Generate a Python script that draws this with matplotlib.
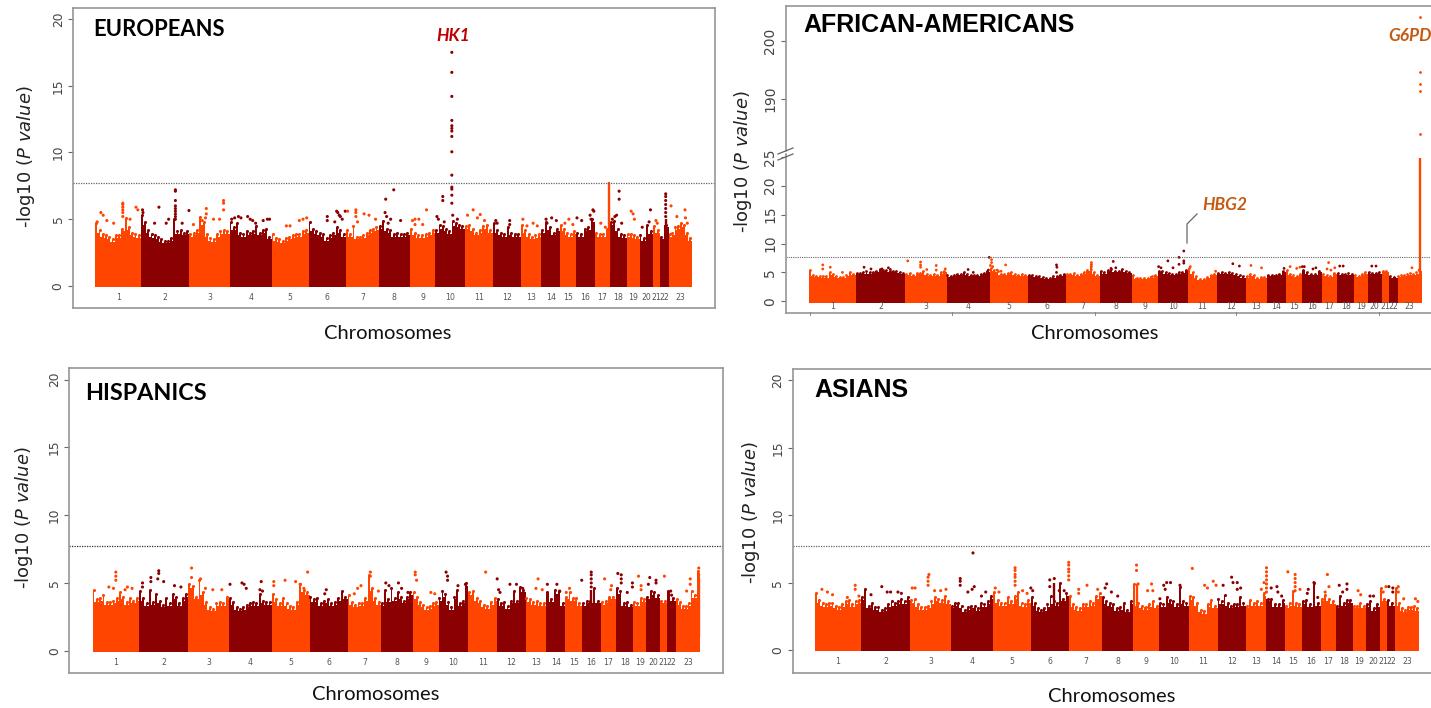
import matplotlib
matplotlib.use("Agg")
import matplotlib.pyplot as plt
from matplotlib.lines import Line2D
import numpy as np

W, H = 1431, 708
ORANGE, DARK = "#FF4500", "#8B0000"
SPINE = "#969696"
THRESHOLD = 7.73

CHROMS = [str(i) for i in range(1, 24)]
CHROM_SIZES = [100, 106, 88, 92, 81, 82, 72, 68, 56, 64, 62, 61, 45, 41, 35, 41, 33, 37, 28, 30, 15, 19, 51]

# Upper edge of the solid mass, sampled along each chromosome
EUR_ENV = [
    [4.7,4.2,3.9,3.8,3.7,3.5,3.8,3.8,4.3,5.1,4.4,4.0,3.9,3.8],
    [5.3,4.8,4.2,3.9,3.8,3.7,3.5,3.4,3.4,3.6,5.0,4.1,4.2,4.0,4.1],
    [3.9,4.0,4.2,5.2,4.8,3.9,3.6,3.5,3.9,4.1,4.2,4.1],
    [4.8,4.4,4.7,4.0,3.9,4.1,4.0,4.1,4.5,4.0,4.2,4.3,3.7],
    [3.9,3.6,3.5,3.4,3.6,3.7,3.8,3.9,3.9,4.1,4.2],
    [4.8,4.3,4.1,4.0,3.9,3.6,3.8,4.0,4.4,4.2,3.9],
    [4.2,3.9,4.5,3.7,3.7,3.8,4.0,4.2,4.3,4.4],
    [4.5,4.9,4.3,4.2,3.9,4.0,3.9,3.9,4.0],
    [4.3,4.0,3.8,3.8,3.9,4.0,4.2],
    [4.2,4.6,4.5,4.3,4.1,4.9,4.7,4.6,4.5],
    [4.5,4.6,4.3,4.0,4.2,4.5,4.6,4.2],
    [4.7,4.2,4.0,3.9,4.4,4.0,3.9,3.9],
    [4.6,4.2,3.9,3.7,3.8,3.9],
    [4.2,4.8,4.4,4.0,4.3],
    [4.6,4.3,4.0,3.9,4.1],
    [4.0,3.9,4.3,4.4,5.0],
    [4.0,3.9,3.9,4.3],
    [4.8,4.9,4.3,3.9,3.8],
    [3.9,3.9,3.8,3.7],
    [3.8,3.6,4.6,4.1],
    [4.5,4.2],
    [3.7,4.6],
    [3.9,4.0,4.4,4.5,4.7,4.6,4.0,3.6],
]
AFR_ENV = [
    [5.4,4.6,4.4,4.4,4.3,4.3,5.0,4.8,4.4,4.2,4.2,4.5,5.0,4.8],
    [4.9,4.9,5.0,5.3,5.0,5.1,5.2,5.4,5.5,5.4,5.3,5.3,5.3,5.1,4.9],
    [4.8,4.9,4.6,4.9,4.9,5.2,4.7,4.5,4.8,4.6,5.0,5.2],
    [4.6,4.4,4.6,4.8,4.8,5.0,4.7,4.5,4.5,4.6,4.7,4.9,5.2],
    [5.8,5.4,5.2,4.8,4.8,4.9,5.0,4.7,4.6,4.8,4.5],
    [4.6,4.5,4.4,4.4,4.2,4.0,4.1,4.3,4.4,4.6,4.7],
    [4.7,4.7,4.9,4.6,4.7,5.0,5.5,6.5,5.0,4.6],
    [5.2,5.0,5.5,5.6,5.3,5.2,5.6,5.2,5.1],
    [4.5,4.1,4.0,4.0,4.1,4.3,4.6],
    [5.3,5.2,5.0,4.9,4.7,4.8,5.0,5.1,5.5],
    [5.7,5.0,4.3,3.9,3.9,4.2,4.6,4.7],
    [4.9,5.1,4.9,5.0,4.9,4.8,4.5,4.3],
    [4.3,4.7,4.5,4.1,4.2,4.2],
    [4.5,4.5,4.6,4.8,5.3],
    [5.4,4.8,4.5,4.4,4.7],
    [5.4,5.0,4.8,4.8,5.2],
    [4.7,4.5,4.4,4.9],
    [4.9,4.7,4.7,4.9,4.8],
    [4.5,4.4,4.7,5.0],
    [5.1,4.9,4.9,5.0],
    [5.3,5.3],
    [4.4,4.2],
    [4.4,4.6,4.6,4.8,4.9,4.7,5.0,5.5],
]
HIS_ENV = [
    [4.5,3.8,3.9,4.1,3.6,3.6,3.7,3.9,4.3,4.0,3.6,3.9,3.7,3.9],
    [4.4,3.9,3.5,4.5,3.6,4.2,3.7,3.4,3.9,3.5,4.2,4.0,3.5,3.9,4.2],
    [4.9,4.8,4.0,5.2,4.3,3.6,3.2,3.1,3.5,3.6,3.5,4.0],
    [3.9,3.6,3.2,3.1,3.2,3.4,3.5,3.6,3.5,4.2,3.7,3.6,3.6],
    [4.2,3.8,3.5,3.9,3.5,3.3,3.2,3.6,4.9,4.5,4.3],
    [4.0,3.8,3.9,3.5,3.7,3.8,3.5,3.6,3.9,4.4,4.0],
    [4.1,3.6,3.4,3.5,3.5,3.9,5.6,4.6,3.9,3.6],
    [3.5,4.5,3.8,4.6,3.9,4.3,4.0,3.7,4.0,4.3],
    [4.3,4.0,3.6,3.4,3.2,3.3,3.5,3.6],
    [3.9,4.4,4.2,3.6,3.2,4.0,4.5,3.5,3.7,5.0],
    [4.3,4.4,3.9,3.7,3.4,3.3,3.6,3.9],
    [3.8,3.5,3.6,3.3,3.7,4.4,3.7,4.7,4.5],
    [3.9,3.8,3.6,3.7,3.5,3.5],
    [4.3,3.8,4.5,4.4,3.5],
    [4.0,4.3,3.9,3.9,3.5],
    [3.5,3.7,3.7,4.6,3.7],
    [3.6,3.7,4.0,4.0],
    [4.6,4.4,3.5,3.6,3.4],
    [3.6,3.5,3.9,3.8],
    [4.0,4.4,4.3,4.1],
    [3.7,3.7],
    [4.4,3.9],
    [3.8,3.6,3.3,3.3,3.5,4.4,4.1,5.9],
]
ASN_ENV = [
    [4.2,3.7,3.5,3.4,3.5,3.5,3.3,3.2,3.4,3.6,3.7,3.4,3.6,3.7],
    [3.9,4.5,3.3,3.5,3.2,3.2,3.0,3.1,3.4,3.6,3.5,3.6,3.8,3.6,3.9],
    [3.7,3.8,3.4,3.2,3.2,3.3,3.6,3.9,3.8,3.7,4.0,3.6],
    [3.3,3.5,3.5,3.3,3.0,3.2,3.3,3.3,3.1,3.5,3.4,3.6,4.0],
    [4.3,3.7,3.5,3.5,3.9,3.6,4.0,4.3,3.5,3.4,3.7],
    [3.9,3.5,3.1,3.0,3.1,3.4,4.0,3.6,3.5,5.0,3.8,4.2],
    [4.0,3.4,3.2,3.1,3.4,3.4,3.6,3.5,4.0,4.2],
    [3.9,3.6,3.5,3.4,3.1,3.2,3.5,3.0,3.6],
    [4.9,3.5,3.3,3.2,3.4,3.6,3.3],
    [3.5,3.4,3.9,3.7,3.6,3.4,4.7,3.6,3.5],
    [4.0,3.9,3.5,3.0,2.9,3.4,3.7,3.3],
    [3.8,3.6,4.1,3.5,3.3,3.4,3.4,3.9,3.5],
    [3.3,3.7,3.5,3.6,3.5,4.2],
    [3.8,3.8,3.4,3.4,3.7],
    [3.3,3.5,4.4,3.5,3.4],
    [3.6,3.7,3.4,5.0,3.5],
    [3.8,4.1,3.8,3.6],
    [3.3,4.0,3.5,3.7,3.7],
    [3.3,3.3,3.5,3.3],
    [3.4,3.6,3.1,3.4],
    [4.6,3.8],
    [3.7,3.5],
    [4.6,3.5,3.1,3.0,3.2,3.2,3.3,3.1],
]

# Individual SNPs above the mass: (chromosome, position within chromosome, -log10 P)
EUR_POINTS = [
    (10,.56,17.5),(10,.56,16.0),(10,.56,14.2),(10,.56,12.4),(10,.56,12.0),(10,.56,11.8),(10,.56,11.6),(10,.56,11.2),
    (10,.56,10.05),(10,.56,8.3),(10,.56,7.4),(10,.56,7.25),(10,.56,6.8),(10,.56,6.2),(10,.59,5.3),
    (10,.25,6.7),(10,.25,6.4),(10,.05,5.2),(10,.1,5.0),(10,.3,4.8),(10,.75,5.0),
    (2,.71,7.2),(2,.71,7.1),(2,.71,6.4),(2,.71,6.0),(2,.71,5.8),(2,.71,5.6),(2,.71,5.4),(2,.71,5.2),(2,.71,5.0),
    (2,.37,5.9),(2,.03,5.7),(2,.04,5.5),(2,.99,5.65),(2,.57,5.0),(2,.52,4.7),(2,.85,4.7),(2,.28,4.7),
    (1,.6,6.2),(1,.6,6.1),(1,.6,5.9),(1,.6,5.7),(1,.6,5.5),(1,.6,5.2),(1,.12,5.5),(1,.17,5.3),(1,.89,5.9),(1,.93,5.7),
    (1,.76,5.0),(1,.25,4.9),(1,.04,4.8),(1,.4,4.7),
    (3,.85,6.4),(3,.85,6.2),(3,.85,5.7),(3,.42,5.8),(3,.42,5.4),(3,.4,5.1),(3,.6,5.0),(3,.32,4.9),(3,.1,4.6),(3,.75,5.0),
    (4,.05,5.0),(4,.12,5.1),(4,.21,5.2),(4,.27,5.1),(4,.43,5.2),(4,.49,5.0),(4,.55,4.9),(4,.62,4.7),(4,.8,4.9),(4,.9,5.0),(4,.95,5.0),
    (5,.4,4.5),(5,.5,4.5),(5,.75,4.9),(5,.85,5.0),(5,.95,5.1),
    (6,.5,5.2),(6,.5,4.9),(6,.75,5.6),(6,.78,5.5),(6,.82,5.3),(6,.85,5.2),(6,.9,5.0),(6,.7,4.8),(6,.98,5.6),
    (7,.05,5.6),(7,.3,5.7),(7,.3,5.5),(7,.3,5.2),(7,.55,5.4),(7,.7,5.3),(7,.9,5.0),(7,.35,4.8),
    (8,.22,6.5),(8,.48,7.2),(8,.2,5.5),(8,.25,5.2),(8,.38,5.0),(8,.7,4.9),(8,.3,4.7),
    (9,.1,4.9),(9,.2,5.0),(9,.35,5.0),(9,.65,5.7),(9,.5,4.6),(9,.2,4.6),
    (11,.3,5.7),(11,.1,5.3),(11,.55,5.35),(11,.45,5.1),(11,.7,4.9),
    (12,.1,4.9),(12,.15,4.7),(12,.6,4.9),(12,.6,4.6),
    (13,.1,5.0),(13,.3,4.5),(13,.6,4.7),(13,.8,4.5),
    (14,.25,5.0),(14,.55,5.1),(14,.8,4.9),(14,.3,4.7),
    (15,.55,5.0),(15,.3,4.7),(15,.8,4.6),
    (16,.05,5.1),(16,.3,4.9),(16,.75,5.3),(16,.9,5.7),(16,.95,5.6),(16,.8,5.0),
    (17,.4,4.7),(17,.7,4.4),
    (18,.55,7.1),(18,.55,6.5),(18,.4,5.3),(18,.3,5.2),(18,.15,5.0),(18,.7,4.7),
    (19,.35,5.6),(19,.5,5.4),(19,.6,5.0),
    (20,.8,5.7),(20,.2,4.4),(20,.7,4.8),
    (21,.4,4.9),(21,.6,4.7),
    (22,.65,6.9),(22,.65,6.7),(22,.65,6.4),(22,.65,6.1),(22,.65,5.8),(22,.65,5.5),(22,.65,5.2),
    (23,.1,6.0),(23,.7,5.7),(23,.72,5.1),(23,.35,5.2),(23,.8,4.7),
]
AFR_POINTS = [
    (1,.3,6.3),(1,.3,5.6),(1,.46,5.9),(1,.72,5.0),
    (2,.17,5.9),(2,.31,5.6),(2,.5,5.5),(2,.66,5.8),(2,.53,5.6),(2,.7,5.5),
    (3,.06,7.0),(3,.37,6.8),(3,.37,6.3),(3,.37,5.9),(3,.75,6.2),(3,.75,5.4),(3,.52,5.5),(3,.97,5.6),
    (4,.5,5.5),(4,.62,5.0),(4,.97,5.4),(4,.99,7.6),
    (5,.05,7.2),(5,.05,6.7),(5,.02,6.2),(5,.08,6.0),(5,.42,6.3),(5,.2,5.4),(5,.3,5.2),
    (6,.75,6.3),(6,.76,5.9),(6,.75,5.0),
    (7,.75,6.7),(7,.75,6.0),(7,.75,5.5),
    (8,.42,6.9),(8,.5,5.8),(8,.35,5.7),
    (10,.02,6.0),(10,.33,7.0),(10,.7,7.6),(10,.7,6.4),(10,.86,8.7),(10,.86,7.0),(10,.86,6.6),(10,.5,5.8),(10,.1,5.8),
    (11,.08,6.0),(11,.95,5.2),
    (12,.55,6.5),(12,.78,6.1),
    (13,.25,6.2),(13,.75,5.8),
    (14,.9,5.7),
    (15,.25,6.0),(15,.65,5.7),(15,.85,5.9),
    (16,.0,6.0),(16,.1,6.0),(16,.55,5.6),(16,.7,5.8),
    (17,.35,5.6),(17,.45,6.7),(17,.6,5.4),(17,.85,5.8),
    (18,.15,6.1),(18,.35,6.1),
    (20,.3,6.1),(20,.6,6.1),
    (23,.6,5.8),(23,.9,5.4),
]
AFR_UPPER_POINTS = [(23,.93,204.0),(23,.93,194.6),(23,.93,192.6),(23,.93,191.4),(23,.93,183.9)]
HIS_POINTS = [
    (1,.5,5.8),(1,.5,5.5),(1,.5,5.2),(1,.35,4.7),(1,.45,4.6),(1,.75,4.7),(1,.85,4.6),(1,.7,4.5),
    (2,.4,5.9),(2,.4,5.7),(2,.24,5.4),(2,.24,5.1),(2,.38,5.3),(2,.5,5.1),(2,.72,4.8),(2,.85,4.7),(2,.07,5.0),(2,.07,4.7),
    (3,.08,6.1),(3,.08,5.4),(3,.3,5.3),(3,.42,4.6),(3,.6,4.5),(3,.82,4.5),
    (4,.02,4.9),(4,.3,5.0),(4,.35,4.9),(4,.4,4.6),(4,.75,5.1),(4,.72,4.5),(4,.78,4.4),
    (5,.05,5.1),(5,.05,4.8),(5,.35,5.2),(5,.63,5.1),(5,.95,5.8),(5,.75,4.9),(5,.85,4.6),
    (6,.44,4.5),(6,.4,4.2),
    (7,.3,4.6),(7,.4,4.8),(7,.68,5.8),(7,.68,5.5),(7,.2,4.2),(7,.92,4.4),
    (8,.15,5.0),(8,.25,4.8),(8,.55,5.0),(8,.65,4.6),(8,.85,4.3),
    (9,.1,5.8),(9,.1,5.6),(9,.15,5.2),(9,.7,4.3),(9,.85,4.2),
    (10,.25,5.8),(10,.3,5.5),(10,.3,5.2),(10,.9,4.9),(10,.65,4.8),
    (11,.6,5.8),
    (12,.0,5.3),(12,.45,4.9),(12,.68,4.9),(12,.9,4.6),(12,.05,4.5),(12,.1,4.3),
    (13,.6,5.3),(13,.5,4.6),(13,.8,4.5),
    (14,.05,4.9),(14,.55,4.9),(14,.7,4.4),
    (15,.25,4.6),(15,.05,4.3),
    (16,.0,5.2),(16,.5,5.8),(16,.5,5.6),(16,.5,5.3),(16,.5,5.0),(16,.5,4.7),
    (17,.25,5.3),(17,.7,4.8),(17,.65,4.5),
    (18,.1,5.7),(18,.3,5.6),(18,.3,5.3),(18,.3,5.0),(18,.65,4.3),(18,.95,5.0),(18,.95,4.7),
    (19,.4,5.5),(19,.6,4.8),(19,.6,4.5),
    (20,.25,5.4),(20,.7,5.2),(20,.7,5.0),(20,.15,4.9),
    (21,.6,5.5),
    (22,.4,4.4),(22,.5,4.1),
    (23,.6,5.3),(23,.6,4.9),(23,.45,4.4),(23,.96,6.1),(23,.96,5.6),
]
ASN_POINTS = [
    (1,.15,4.5),(1,.27,4.3),(1,.38,4.1),(1,.87,4.8),(1,.87,4.5),(1,.7,3.9),(1,.95,4.0),
    (2,.42,4.7),(2,.2,4.1),(2,.53,4.3),(2,.6,4.3),(2,.75,4.3),(2,.82,4.2),
    (3,.46,5.6),(3,.44,5.4),(3,.44,5.1),(3,.44,4.8),(3,.05,4.6),(3,.12,4.6),(3,.6,4.4),(3,.75,4.4),(3,.88,4.5),
    (4,.22,5.3),(4,.22,5.1),(4,.22,4.8),(4,.52,7.2),(4,.55,4.7),(4,.5,4.5),(4,.4,4.3),(4,.82,4.3),(4,.72,4.0),
    (5,.05,4.6),(5,.15,4.3),(5,.58,6.1),(5,.58,5.9),(5,.58,5.6),(5,.58,5.4),(5,.58,5.1),(5,.58,4.8),(5,.78,4.4),(5,.9,4.2),
    (6,.0,4.6),(6,.05,4.4),(6,.5,5.2),(6,.5,4.7),(6,.62,5.3),(6,.75,4.4),(6,.88,4.4),
    (7,.0,6.5),(7,.0,6.3),(7,.0,6.0),(7,.0,5.8),(7,.0,5.5),(7,.0,5.2),(7,.3,4.5),(7,.55,4.8),(7,.3,4.2),(7,.87,4.5),
    (8,.15,4.9),(8,.1,4.6),(8,.3,4.3),(8,.5,4.0),
    (9,.12,6.3),(9,.12,5.9),(9,.18,4.9),(9,.7,4.9),(9,.55,4.4),(9,.75,4.4),
    (10,.15,4.8),(10,.2,4.5),(10,.25,5.0),(10,.38,5.0),(10,.7,4.8),(10,.02,3.8),
    (11,.12,6.05),(11,.55,4.8),(11,.65,4.6),(11,.85,5.1),(11,.95,4.8),
    (12,.2,4.8),(12,.5,5.4),(12,.55,5.0),(12,.7,5.0),(12,.7,4.5),(12,.82,4.6),
    (13,.75,4.5),(13,.88,5.0),
    (13,1.0,6.1),(13,1.0,5.8),(13,1.0,5.5),(13,1.0,5.2),(13,1.0,4.9),(13,1.0,4.6),(13,1.0,4.3),
    (14,.25,4.6),(14,.55,4.7),(14,.6,4.3),(14,.8,4.0),
    (15,.15,5.8),(15,.6,5.6),(15,.6,5.3),(15,.6,5.0),(15,.6,4.7),(15,.6,4.4),(15,.9,4.5),
    (16,.35,4.5),(16,.3,4.2),(16,.65,5.0),(16,.85,3.9),
    (17,.45,5.6),(17,.55,4.7),(17,.3,4.3),
    (18,.2,4.8),(18,.65,4.9),(18,.65,4.5),(18,.4,4.3),
    (19,.4,4.4),(19,.6,4.1),
    (20,.3,4.0),(20,.55,4.0),
    (21,.9,4.7),(21,.5,4.3),
    (22,.25,4.7),(22,.7,4.6),(22,.7,4.3),
    (23,.12,4.7),(23,.12,4.3),(23,.35,3.8),(23,.85,3.8),(23,.95,3.6),
]

# Thin columns rising out of the mass: (chromosome, position, top)
EUR_STEMS = [(17,.93,7.8),(22,.65,5.0)]
AFR_STEMS = [(23,.93,24.8)]
HIS_STEMS = [(23,.96,5.4),(16,.5,4.5)]
ASN_STEMS = [(6,.62,5.0),(9,.12,4.9)]

STARTS = np.concatenate(([0], np.cumsum(CHROM_SIZES)[:-1]))
TOTAL = sum(CHROM_SIZES)
MIDS = STARTS + np.array(CHROM_SIZES) / 2
NOTCH = 0.2  # depth of the gaps between the sampled columns


def chrom_color(c):
    return ORANGE if c % 2 == 1 else DARK


def place(px_l, px_r, px_t, px_b):
    return fig.add_axes([px_l / W, 1 - px_b / H, (px_r - px_l) / W, (px_b - px_t) / H])


def set_x(ax, px_l, px_r, mass_l, mass_r):
    s = (mass_r - mass_l) / TOTAL
    ax.set_xlim((px_l - mass_l) / s, TOTAL + (px_r - mass_r) / s)


def style(ax, right=True):
    for name, sp in ax.spines.items():
        sp.set_color(SPINE)
        sp.set_linewidth(1.2)
    ax.spines["right"].set_visible(right)


def draw(ax, env, points, stems, dot, floor):
    for i, vals in enumerate(env):
        c = i + 1
        col = chrom_color(c)
        n = len(vals)
        step = CHROM_SIZES[i] / n
        xs, ys, tx = [], [], []
        for j, v in enumerate(vals):
            x0 = STARTS[i] + j * step
            nxt = vals[j + 1] if j + 1 < n else v
            xs += [x0, x0 + step * 0.55]
            ys += [v, min(v, nxt) - NOTCH]
            tx.append(x0 + step * 0.28)
        xs.append(STARTS[i] + CHROM_SIZES[i])
        ys.append(ys[-1])
        ax.fill_between(xs, floor, ys, step="post", color=col, lw=0)
        ax.scatter(tx, vals, s=dot, color=col, lw=0)
    for c, f, top in stems:
        x = STARTS[c-1] + f * CHROM_SIZES[c-1]
        ax.plot([x, x], [1, top], color=chrom_color(c), lw=1.7, solid_capstyle="butt")
    xs = [STARTS[c-1] + f * CHROM_SIZES[c-1] for c, f, y in points]
    ys = [y for c, f, y in points]
    cols = [chrom_color(c) for c, f, y in points]
    ax.scatter(xs, ys, s=dot, c=cols, lw=0)


def x_labels(ax, pad):
    ax.set_xticks(MIDS)
    ax.set_xticklabels(CHROMS, fontsize=5.6, color="#555555")
    ax.tick_params(axis="x", length=0, pad=pad)


def y_ticks(ax, ticks, size):
    ax.set_yticks(ticks)
    ax.set_yticklabels([str(t) for t in ticks], rotation=90, va="center", fontsize=size, color="#444444")
    ax.tick_params(axis="y", length=3.5, width=0.8, color="#666666", pad=2.5)


def ptext(x, y, s, **kw):
    fig.text(x / W, 1 - y / H, s, **kw)


fig = plt.figure(figsize=(W / 100, H / 100), dpi=100)
plt.rcParams["mathtext.default"] = "regular"
YLAB = r"-log10 ($\mathit{P\ value}$)"
DOT = 5.0

# Europeans
ax = place(73, 715, 8, 308)
ax.set_ylim(-1.65, 20.82)
set_x(ax, 73, 715, 95.4, 692)
draw(ax, EUR_ENV, EUR_POINTS, EUR_STEMS, DOT, -0.1)
ax.axhline(THRESHOLD, color="#666666", lw=0.9, ls=(0, (1, 1)))
x_labels(ax, -11)
y_ticks(ax, [0, 5, 10, 15, 20], 8.8)
style(ax)

# African-Americans: broken axis
P2L, P2R = 785.5, 1433
ax_l = place(P2L, P2R, 154.5, 312.7)
ax_l.set_ylim(-1.97, 25.4)
set_x(ax_l, P2L, P2R, 808.7, 1421.5)
draw(ax_l, AFR_ENV, AFR_POINTS, AFR_STEMS, 4.0, -0.25)
ax_l.axhline(THRESHOLD, color="#666666", lw=0.8, ls=(0, (1, 1)))
x_labels(ax_l, -8)
y_ticks(ax_l, [0, 5, 10, 15, 20, 25], 10)
style(ax_l, right=False)
ax_l.spines["top"].set_visible(False)

ax_u = place(P2L, P2R, 6, 151)
ax_u.set_ylim(181.0, 205.98)
set_x(ax_u, P2L, P2R, 808.7, 1421.5)
xs = [STARTS[c-1] + f * CHROM_SIZES[c-1] for c, f, y in AFR_UPPER_POINTS]
ax_u.scatter(xs, [y for c, f, y in AFR_UPPER_POINTS], s=4.0, color=ORANGE, lw=0)
ax_u.set_xticks([])
y_ticks(ax_u, [190, 200], 10)
style(ax_u, right=False)
ax_u.spines["bottom"].set_visible(False)

for dy in (151, 157):
    fig.add_artist(Line2D([778 / W, 793 / W], [1 - (dy + 3) / H, 1 - (dy - 3) / H], color="#666666", lw=0.9))

for px in (810, 952, 1095, 1236, 1379):
    fig.add_artist(Line2D([px / W, px / W], [1 - 312 / H, 1 - 315 / H], color="#888888", lw=0.7))

fig.add_artist(Line2D([1187 / W, 1187 / W, 1197 / W], [1 - 243 / H, 1 - 224 / H, 1 - 214 / H], color="#666666", lw=0.9))

# Hispanics
ax = place(69.4, 722.5, 368, 673.3)
ax.set_ylim((650.7 - 673.3) / 13.55, (650.7 - 368) / 13.55)
set_x(ax, 69.4, 722.5, 92.6, 699.7)
draw(ax, HIS_ENV, HIS_POINTS, HIS_STEMS, DOT, -0.1)
ax.axhline(THRESHOLD, color="#333333", lw=0.9, ls=(0, (1, 1)))
x_labels(ax, -11)
y_ticks(ax, [0, 5, 10, 15, 20], 8.8)
style(ax)

# Asians
ax = place(792.6, 1433, 369, 672.7)
ax.set_ylim((650 - 672.7) / 13.48, (650 - 369) / 13.48)
set_x(ax, 792.6, 1433, 815, 1419)
draw(ax, ASN_ENV, ASN_POINTS, ASN_STEMS, DOT, -0.1)
ax.axhline(THRESHOLD, color="#666666", lw=0.9, ls=(0, (1, 1)))
x_labels(ax, -11)
y_ticks(ax, [0, 5, 10, 15, 20], 8.8)
style(ax, right=False)

# Titles and labels
T = dict(fontweight="bold", color="black", va="center", ha="left")
ptext(93, 30, "EUROPEANS", family="Lato", fontsize=15.8, **T)
ptext(803, 24.5, "AFRICAN-AMERICANS", family="Liberation Sans", fontsize=18, **T)
ptext(85, 393, "HISPANICS", family="Lato", fontsize=16.8, **T)
ptext(814, 390, "ASIANS", family="Liberation Sans", fontsize=18, **T)

C = dict(family="Lato", color="#111111", ha="center", va="center", fontsize=14.5)
ptext(388, 333, "Chromosomes", **C)
ptext(1095, 333, "Chromosomes", **C)
ptext(376, 694, "Chromosomes", **C)
ptext(1112, 696, "Chromosomes", **C)

Y = dict(rotation=90, ha="center", va="center", fontsize=13, color="#222222")
ptext(26, 157, YLAB, **Y)
ptext(743, 162, YLAB, **Y)
ptext(24, 518, YLAB, **Y)
ptext(751, 513, YLAB, **Y)

G = dict(family="Lato", fontweight="bold", fontstyle="italic", ha="left", va="center", fontsize=12.5)
ptext(436, 36, "HK1", color="#C00000", **G)
ptext(1388, 36, "G6PD", color="#C55A11", **G)
ptext(1202, 205, "HBG2", color="#C55A11", **G)

fig.savefig("out.png", dpi=100)
